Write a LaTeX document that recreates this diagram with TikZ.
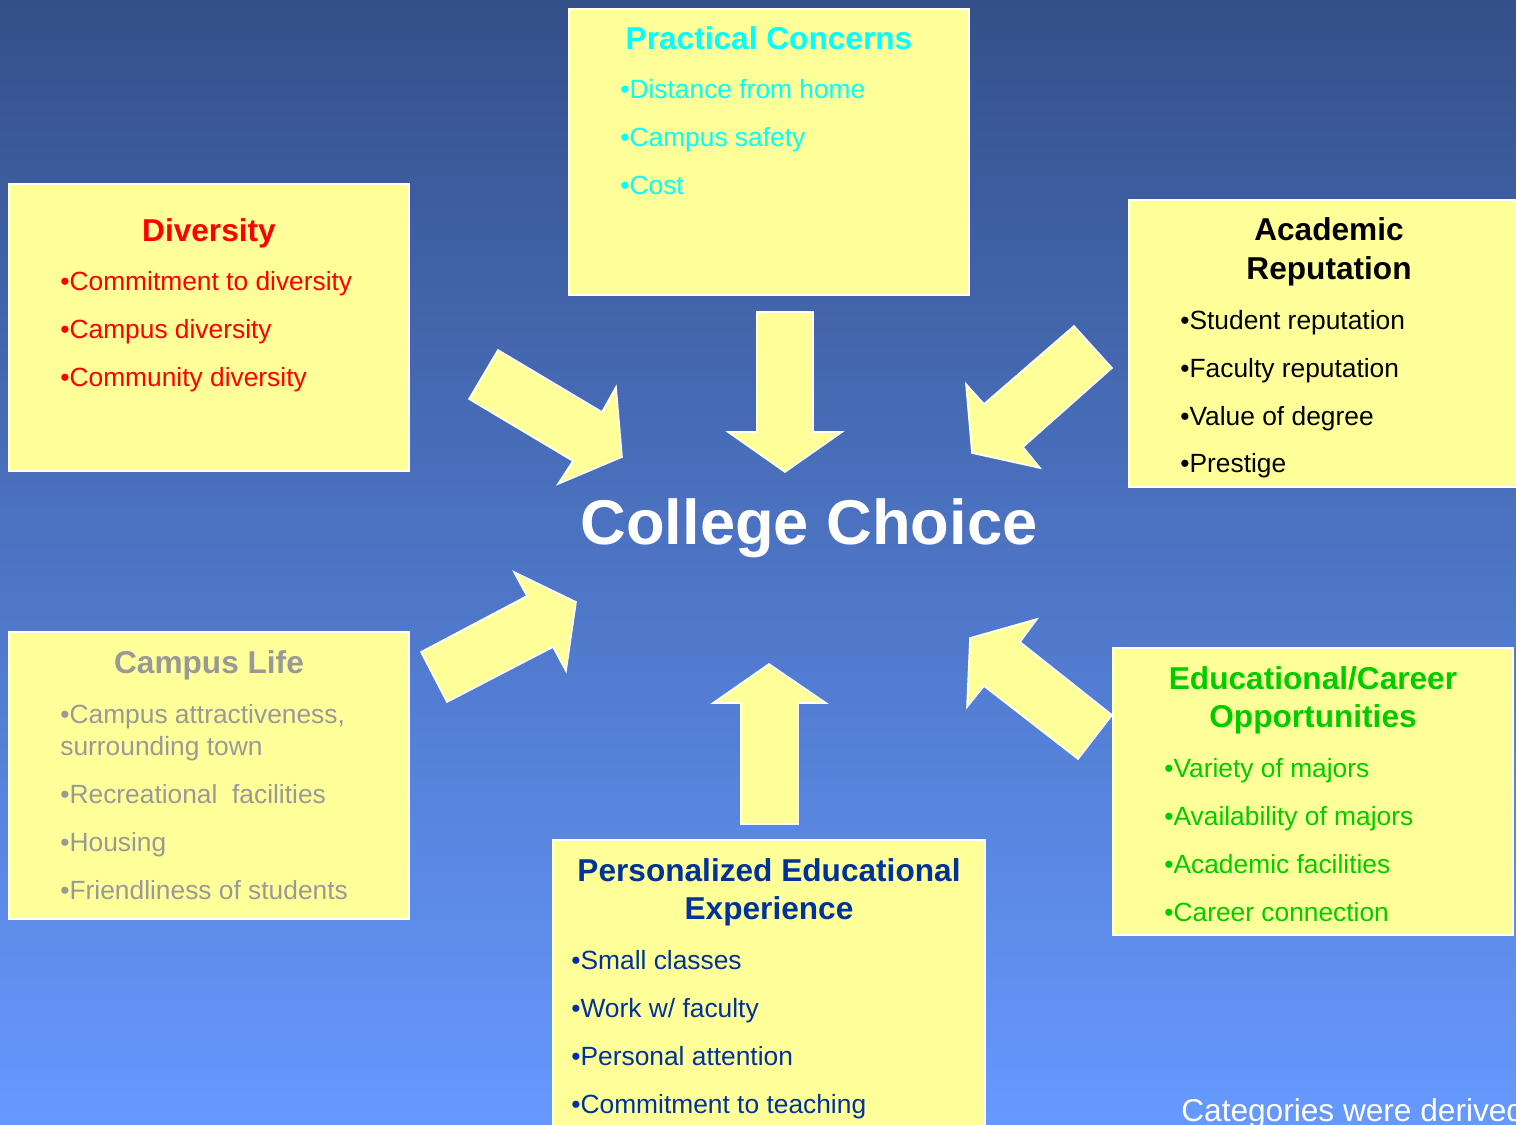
\documentclass[tikz,border=0pt]{standalone}
\usepackage{fontspec}
\setmainfont{Liberation Sans}
\usepackage{xcolor}
\usepackage{tikz}
\usetikzlibrary{positioning}
\definecolor{paleyellow}{rgb}{1, 1, 0.6}
\definecolor{topblue}{RGB}{52,80,138}
\definecolor{bottomblue}{RGB}{102,153,255}
\definecolor{concerncyan}{RGB}{0,255,255}
\definecolor{careergreen}{RGB}{0,204,0}
\definecolor{personalblue}{RGB}{0,51,153}
\definecolor{lifegray}{RGB}{153,153,153}

\tikzset{
  box/.style={draw=white, line width=1.2pt, fill=paleyellow, inner sep=0pt, anchor=north west},
  bigarrow/.style={draw=white, line width=0.9pt, fill=paleyellow, line join=miter},
  heading/.style={font=\fontsize{18}{22}\selectfont\bfseries, anchor=base, inner sep=0pt},
  item/.style={font=\fontsize{15}{18}\selectfont, anchor=base west, inner sep=0pt},
}

\begin{document}
\begin{tikzpicture}[x=0.02cm, y=-0.02cm]
        \useasboundingbox (0,0) rectangle (1516,1125);
        \shade[top color=topblue, bottom color=bottomblue] (0,0) rectangle (1516,1125);
        \clip (0,0) rectangle (1516,1125);

        % boxes
        \node[box, minimum width=8.0cm, minimum height=5.72cm] (practical) at (568,8) {};
        \node[box, minimum width=8.0cm, minimum height=5.74cm] (diversity) at (8,183) {};
        \node[box, minimum width=8.0cm, minimum height=5.74cm] (academic) at (1128,199) {};
        \node[box, minimum width=8.0cm, minimum height=5.74cm] (campuslife) at (8,631) {};
        \node[box, minimum width=8.0cm, minimum height=5.74cm] (career) at (1112,647) {};
        \node[box, minimum width=8.64cm, minimum height=6.0cm] (personal) at (552,839) {};

        % arrows
        \filldraw[bigarrow] (498,350) -- (602,412) -- (616,387) -- (622,457) -- (558,484) -- (573,461) -- (469,399) -- cycle;
        \filldraw[bigarrow] (757,312) -- (813,312) -- (813,432) -- (842,432) -- (785,472) -- (728,432) -- (757,432) -- cycle;
        \filldraw[bigarrow] (1074,326) -- (1112,368) -- (1023,447) -- (1040,468) -- (972,453) -- (966,384) -- (984,404) -- cycle;
        \filldraw[bigarrow] (421,652) -- (527,596) -- (514,572) -- (576,602) -- (566,671) -- (553,647) -- (447,702) -- cycle;
        \filldraw[bigarrow] (970,638) -- (1037,619) -- (1020,642) -- (1112,715) -- (1078,759) -- (984,686) -- (967,707) -- cycle;
        \filldraw[bigarrow] (741,824) -- (741,703) -- (713,703) -- (769,664) -- (826,703) -- (798,703) -- (798,824) -- cycle;

        \node[anchor=base, inner sep=0pt, white, font=\fontsize{36}{40}\selectfont\bfseries] (choice) at (809,544) {College Choice};

        % Practical Concerns
        \node[heading, concerncyan] (pc-title) at (769,50) {Practical Concerns};
        \foreach \t [count=\i] in {Distance from home, Campus safety, Cost}
            \node[item, concerncyan] (pc-\i) at (620,51+48*\i) {•\t};

        % Diversity
        \node[heading, red] (dv-title) at (209,242) {Diversity};
        \foreach \t [count=\i] in {Commitment to diversity, Campus diversity, Community diversity}
            \node[item, red] (dv-\i) at (60,243+48*\i) {•\t};

        % Academic Reputation
        \node[heading, black] (ar-title) at (1329,241) {Academic};
        \node[heading, black] (ar-title2) at (1329,280) {Reputation};
        \foreach \t [count=\i] in {Student reputation, Faculty reputation, Value of degree, Prestige}
            \node[item, black] (ar-\i) at (1180,282+47.7*\i) {•\t};

        % Campus Life
        \node[heading, lifegray] (cl-title) at (209,673) {Campus Life};
        \node[item, lifegray] (cl-1) at (60,723) {•Campus attractiveness,};
        \node[item, lifegray] (cl-1b) at (60,755) {surrounding town};
        \node[item, lifegray] (cl-2) at (60,803) {•Recreational~ facilities};
        \node[item, lifegray] (cl-3) at (60,851) {•Housing};
        \node[item, lifegray] (cl-4) at (60,899) {•Friendliness of students};

        % Educational/Career Opportunities
        \node[heading, careergreen] (ec-title) at (1313,689) {Educational/Career};
        \node[heading, careergreen] (ec-title2) at (1313,727) {Opportunities};
        \foreach \t [count=\i] in {Variety of majors, Availability of majors, Academic facilities, Career connection}
            \node[item, careergreen] (ec-\i) at (1164,729+48*\i) {•\t};

        % Personalized Educational Experience
        \node[heading, personalblue] (pe-title) at (769,881) {Personalized Educational};
        \node[heading, personalblue] (pe-title2) at (769,919) {Experience};
        \foreach \t [count=\i] in {Small classes, Work w/ faculty, Personal attention, Commitment to teaching}
            \node[item, personalblue] (pe-\i) at (571,921+48*\i) {•\t};

        \node[anchor=base west, inner sep=0pt, white, font=\fontsize{18}{22}\selectfont] (note) at (1181,1121) {Categories were derived};
    \end{tikzpicture}
\end{document}
